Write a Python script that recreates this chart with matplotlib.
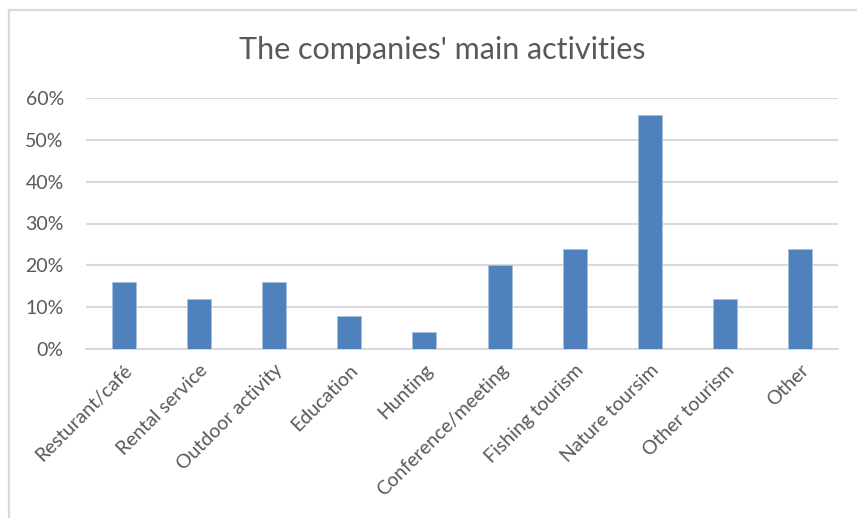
import matplotlib
matplotlib.use("Agg")
import matplotlib.pyplot as plt
from matplotlib.lines import Line2D
from matplotlib.ticker import FuncFormatter, MultipleLocator

# Share of companies by main activity
categories = ["Resturant/café", "Rental service", "Outdoor activity", "Education",
              "Hunting", "Conference/meeting", "Fishing tourism", "Nature toursim",
              "Other tourism", "Other"]
shares = [0.16, 0.12, 0.16, 0.08, 0.04, 0.20, 0.24, 0.56, 0.12, 0.24]

plt.rcParams["font.family"] = ["Lato", "DejaVu Sans"]
text_color = "#595959"
grid_color = "#d9d9d9"
bar_color = "#4f81bd"

W, H = 857, 518
fig = plt.figure(figsize=(W / 100, H / 100), dpi=100)
fig.patch.set_facecolor("white")

# Axes rectangle in pixels: x 86..838, y 98..349 (top-origin)
left, right, top, bottom = 86, 838, 98, 349
ax = fig.add_axes([left / W, 1 - bottom / H, (right - left) / W, (bottom - top) / H])

x = list(range(len(categories)))
ax.bar(x, shares, width=0.32, color=bar_color, edgecolor="#a7c0de", linewidth=0.6, zorder=3)

ax.set_xlim(-0.5, len(categories) - 0.5)
ax.set_ylim(0, 0.6)
ax.yaxis.set_major_locator(MultipleLocator(0.1))
ax.yaxis.set_major_formatter(FuncFormatter(lambda v, _: f"{v * 100:.0f}%"))
ax.grid(axis="y", color=grid_color, linewidth=1.5, zorder=0)
ax.set_axisbelow(True)

for s in ["top", "right", "left"]:
    ax.spines[s].set_visible(False)
ax.spines["bottom"].set_color(grid_color)
ax.spines["bottom"].set_linewidth(1.5)

ax.tick_params(axis="both", length=0, colors=text_color, labelsize=14)
ax.tick_params(axis="y", pad=16)
ax.set_xticks(x)
ax.set_xticklabels(categories, rotation=45, ha="right", rotation_mode="anchor")
ax.tick_params(axis="x", pad=9)

fig.text(442 / W, 1 - 50 / H, "The companies' main activities", ha="center", va="center",
         fontsize=22, color=text_color)

# Chart frame (top and left edges)
fig.add_artist(Line2D([8.5 / W, 1.0], [1 - 9.5 / H] * 2, transform=fig.transFigure,
                      color=grid_color, linewidth=1.6))
fig.add_artist(Line2D([8.5 / W] * 2, [0.0, 1 - 9.5 / H], transform=fig.transFigure,
                      color=grid_color, linewidth=1.6))

fig.savefig("out.png", dpi=100, facecolor="white")
